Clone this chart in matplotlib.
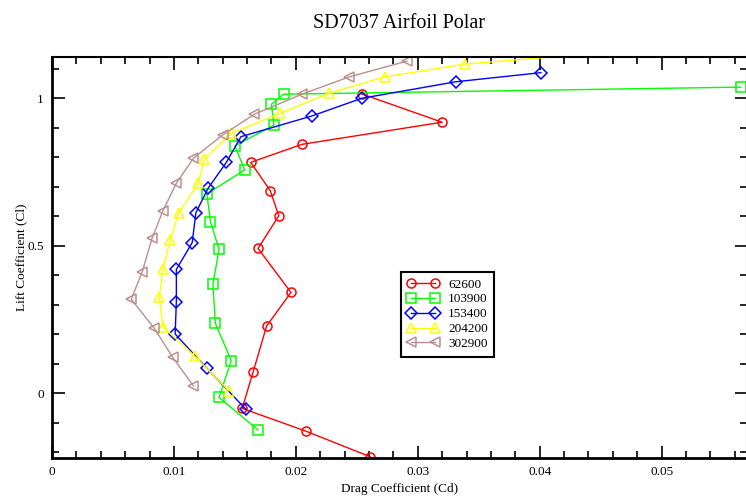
import matplotlib
matplotlib.use("Agg")
import matplotlib.pyplot as plt
from matplotlib.ticker import MultipleLocator

# ── Data ─────────────────────────────────────────────────────────────────────

re_labels = ["62600", "103900", "153400", "204200", "302900"]

cd_62600 = [0.0261, 0.0208, 0.0156, 0.0165, 0.0176, 0.0196, 0.0169, 0.0186,
            0.0179, 0.0163, 0.0205, 0.0320, 0.0254]
cl_62600 = [-0.216, -0.129, -0.052, 0.072, 0.227, 0.341, 0.490, 0.601,
            0.686, 0.782, 0.843, 0.918, 1.014]

cd_103900 = [0.0169, 0.0137, 0.0147, 0.0134, 0.0132, 0.0137, 0.0130, 0.0127,
             0.0158, 0.0150, 0.0182, 0.0180, 0.0190, 0.0565]
cl_103900 = [-0.125, -0.015, 0.110, 0.236, 0.368, 0.487, 0.581, 0.675,
             0.756, 0.838, 0.908, 0.979, 1.013, 1.037]

cd_153400 = [0.0159, 0.0127, 0.0101, 0.0102, 0.0102, 0.0115, 0.0118, 0.0128,
             0.0143, 0.0155, 0.0213, 0.0254, 0.0331, 0.0401]
cl_153400 = [-0.055, 0.084, 0.200, 0.310, 0.419, 0.510, 0.611, 0.694,
             0.782, 0.869, 0.939, 0.999, 1.055, 1.086]

cd_204200 = [0.0145, 0.0117, 0.0091, 0.0088, 0.0091, 0.0097, 0.0104, 0.0120,
             0.0125, 0.0147, 0.0187, 0.0227, 0.0273, 0.0339, 0.0480]
cl_204200 = [0.008, 0.125, 0.225, 0.324, 0.419, 0.519, 0.611, 0.711,
             0.793, 0.880, 0.948, 1.016, 1.072, 1.115, 1.163]

cd_302900 = [0.0116, 0.0099, 0.0084, 0.0065, 0.0074, 0.0082, 0.0091, 0.0102,
             0.0116, 0.0140, 0.0166, 0.0205, 0.0244, 0.0291]
cl_302900 = [0.024, 0.121, 0.219, 0.318, 0.411, 0.524, 0.618, 0.711,
             0.796, 0.875, 0.945, 1.013, 1.072, 1.125]

series = [
    (cd_62600,  cl_62600,  "#ff0000", "o"),
    (cd_103900, cl_103900, "#00ff00", "s"),
    (cd_153400, cl_153400, "#0000ff", "D"),
    (cd_204200, cl_204200, "#ffff00", "^"),
    (cd_302900, cl_302900, "#bc8f8f", "<"),
]

# ── Figure ───────────────────────────────────────────────────────────────────

plt.rcParams["font.family"] = ["Liberation Serif", "DejaVu Serif"]

fig = plt.figure(figsize=(7.46, 4.98), dpi=100)
ax = fig.add_axes([0.0697, 0.0803, 0.9316, 0.8052])

for (cd, cl, color, marker), label in zip(series, re_labels):
    ax.plot(cd, cl, color=color, marker=marker, markersize=6.5,
            markerfacecolor="none", markeredgecolor=color,
            markeredgewidth=1.1, linewidth=1.0, label=label)

ax.set_xlim(0, 0.057)
ax.set_ylim(-0.2203, 1.139)

ax.xaxis.set_major_locator(MultipleLocator(0.01))
ax.xaxis.set_minor_locator(MultipleLocator(0.002))
ax.yaxis.set_major_locator(MultipleLocator(0.5))
ax.yaxis.set_minor_locator(MultipleLocator(0.1))
ax.xaxis.set_major_formatter(plt.FuncFormatter(lambda v, p: f"{v:g}"))
ax.yaxis.set_major_formatter(plt.FuncFormatter(lambda v, p: f"{v:g}"))

ax.tick_params(which="both", direction="in", top=True, right=True,
               labelsize=9.5, width=1.2, pad=6)
ax.tick_params(which="major", length=9)
ax.tick_params(which="minor", length=5)

for side in ["left", "bottom"]:
    ax.spines[side].set_linewidth(2.0)
for side in ["top", "right"]:
    ax.spines[side].set_linewidth(1.5)

ax.set_xlabel("Drag Coefficient (Cd)", fontsize=9.5, labelpad=3)
ax.set_ylabel("Lift Coefficient (Cl)", fontsize=9.5, labelpad=0)
ax.set_title("SD7037 Airfoil Polar", fontsize=14.5, pad=21)

leg = ax.legend(loc="upper left", bbox_to_anchor=(0.492, 0.481),
                numpoints=2, fontsize=9.5, fancybox=False, framealpha=1,
                handlelength=2.4, borderpad=0.5, labelspacing=0.2,
                handletextpad=0.7)
leg.get_frame().set_edgecolor("black")
leg.get_frame().set_linewidth(1.5)

fig.savefig("out.png", dpi=100)
